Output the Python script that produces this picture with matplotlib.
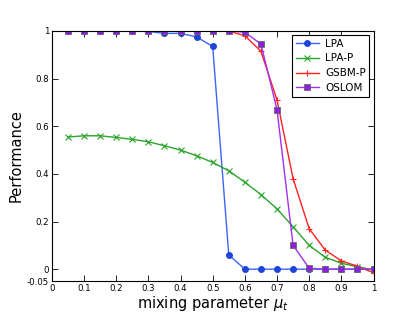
import numpy as np
import matplotlib
matplotlib.use("Agg")
import matplotlib.pyplot as plt

mu = [0.05, 0.10, 0.15, 0.20, 0.25, 0.30, 0.35, 0.40, 0.45, 0.50,
      0.55, 0.60, 0.65, 0.70, 0.75, 0.80, 0.85, 0.90, 0.95, 1.00]

lpa = [1.0, 1.0, 1.0, 1.0, 1.0, 0.998, 0.99, 0.99, 0.975, 0.935,
       0.06, 0.0, 0.0, 0.0, 0.0, 0.0, 0.0, 0.0, 0.0, 0.0]
lpa_p = [0.555, 0.56, 0.56, 0.553, 0.545, 0.535, 0.518, 0.5, 0.476, 0.448,
         0.413, 0.365, 0.313, 0.253, 0.178, 0.1, 0.05, 0.025, 0.01, -0.003]
gsbm_p = [1.0, 1.0, 1.0, 1.0, 1.0, 1.0, 1.0, 1.0, 1.0, 1.0,
          1.0, 0.98, 0.915, 0.71, 0.38, 0.17, 0.08, 0.035, 0.012, -0.015]
oslom = [1.0, 1.0, 1.0, 1.0, 1.0, 1.0, 1.0, 1.0, 1.0, 1.0,
         1.0, 0.995, 0.945, 0.67, 0.1, 0.004, 0.0, 0.0, 0.0, 0.0]

fig = plt.figure(figsize=(4.15, 3.13), dpi=100)
ax = fig.add_subplot(111)
fig.subplots_adjust(left=0.125, right=0.9, bottom=0.102, top=0.901)

ax.plot(mu, lpa, "-o", color="#3a66f5", mfc="#1f45d8", mec="#1f45d8", ms=4, lw=1, label="LPA")
ax.plot(mu, lpa_p, "-x", color="#2aa52a", ms=4, mew=0.8, lw=1, label="LPA-P")
ax.plot(mu, gsbm_p, "-+", color="#ff2020", ms=5, mew=0.8, lw=1, label="GSBM-P")
ax.plot(mu, oslom, "-s", color="#a030f0", mfc="#8a20e0", mec="#666666", ms=4.5, mew=0.6, lw=1, label="OSLOM")

ax.set_xlim(0, 1)
ax.set_ylim(-0.05, 1)
ax.set_xticks(np.arange(0, 1.01, 0.1))
ax.set_xticklabels(["0", "0.1", "0.2", "0.3", "0.4", "0.5", "0.6", "0.7", "0.8", "0.9", "1"])
ax.set_yticks([-0.05, 0, 0.2, 0.4, 0.6, 0.8, 1])
ax.set_yticklabels(["-0.05", "0", "0.2", "0.4", "0.6", "0.8", "1"])
ax.tick_params(direction="in", top=True, right=True, labelsize=6.2, length=4, width=0.6, pad=2)
for s in ax.spines.values():
    s.set_linewidth(0.8)

ax.set_xlabel(r"mixing parameter $\mu_t$", fontsize=10.5, labelpad=1)
ax.set_ylabel("Performance", fontsize=10.5, labelpad=2)

leg = ax.legend(loc="upper right", fontsize=7.5, fancybox=False, framealpha=1,
                borderaxespad=0.4, borderpad=0.35, handlelength=2.2, handletextpad=0.6,
                labelspacing=0.45)
leg.get_frame().set_edgecolor("black")
leg.get_frame().set_linewidth(0.8)

fig.savefig("out.png", dpi=100)
